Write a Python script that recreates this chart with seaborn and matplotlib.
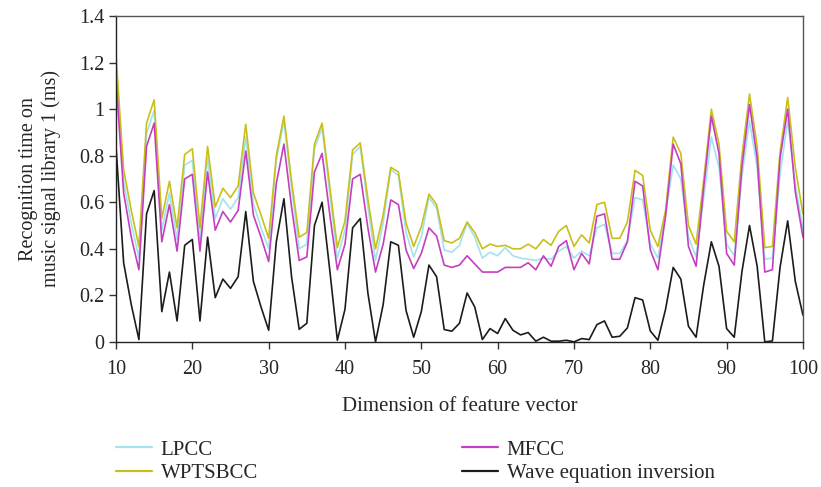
import numpy as np
import pandas as pd
import matplotlib
matplotlib.use("Agg")
import matplotlib.pyplot as plt
import matplotlib.ticker as mticker
import seaborn as sns

# ---------------------------------------------------------------
# Dati (dimensione 10..100)
# ---------------------------------------------------------------
dims = list(range(10, 101))

lpcc = [1.18, 0.69, 0.51, 0.36, 0.895, 0.995, 0.48, 0.64, 0.44, 0.76,
        0.78, 0.44, 0.79, 0.53, 0.615, 0.57, 0.62, 0.88, 0.595, 0.49,
        0.40, 0.78, 0.95, 0.665, 0.40, 0.42, 0.83, 0.92, 0.64, 0.36,
        0.48, 0.805, 0.84, 0.58, 0.35, 0.51, 0.74, 0.715, 0.47, 0.365,
        0.45, 0.62, 0.575, 0.395, 0.385, 0.415, 0.51, 0.45, 0.36, 0.385,
        0.37, 0.405, 0.37, 0.36, 0.355, 0.35, 0.36, 0.355, 0.39, 0.41,
        0.36, 0.39, 0.37, 0.49, 0.505, 0.38, 0.38, 0.435, 0.62, 0.61,
        0.42, 0.36, 0.55, 0.76, 0.70, 0.45, 0.365, 0.62, 0.88, 0.75,
        0.42, 0.37, 0.71, 0.95, 0.75, 0.355, 0.36, 0.72, 0.95, 0.68,
        0.48]

wptsbcc = [1.23, 0.74, 0.565, 0.41, 0.94, 1.04, 0.53, 0.69, 0.49, 0.805,
           0.83, 0.49, 0.84, 0.58, 0.66, 0.62, 0.67, 0.935, 0.64, 0.545,
           0.445, 0.80, 0.97, 0.69, 0.45, 0.47, 0.85, 0.94, 0.67, 0.405,
           0.52, 0.825, 0.855, 0.615, 0.40, 0.545, 0.75, 0.73, 0.51, 0.41,
           0.495, 0.635, 0.59, 0.435, 0.425, 0.445, 0.515, 0.47, 0.40, 0.42,
           0.41, 0.415, 0.40, 0.40, 0.42, 0.40, 0.44, 0.415, 0.475, 0.50,
           0.41, 0.46, 0.425, 0.59, 0.60, 0.445, 0.445, 0.515, 0.737, 0.715,
           0.48, 0.41, 0.565, 0.88, 0.81, 0.50, 0.42, 0.695, 1.00, 0.85,
           0.475, 0.43, 0.80, 1.065, 0.84, 0.405, 0.41, 0.815, 1.05, 0.75,
           0.55]

mfcc = [1.13, 0.64, 0.45, 0.31, 0.84, 0.94, 0.43, 0.59, 0.39, 0.70,
        0.72, 0.39, 0.73, 0.48, 0.56, 0.515, 0.565, 0.82, 0.545, 0.45,
        0.345, 0.68, 0.85, 0.58, 0.35, 0.365, 0.73, 0.81, 0.55, 0.31,
        0.42, 0.70, 0.72, 0.49, 0.30, 0.42, 0.61, 0.59, 0.395, 0.315,
        0.38, 0.49, 0.455, 0.33, 0.32, 0.33, 0.37, 0.335, 0.30, 0.30,
        0.30, 0.32, 0.32, 0.32, 0.34, 0.31, 0.37, 0.325, 0.41, 0.435,
        0.31, 0.38, 0.335, 0.54, 0.55, 0.355, 0.355, 0.43, 0.69, 0.67,
        0.395, 0.31, 0.54, 0.85, 0.765, 0.41, 0.325, 0.665, 0.97, 0.81,
        0.38, 0.33, 0.75, 1.02, 0.79, 0.30, 0.31, 0.79, 1.00, 0.645,
        0.45]

wave_inv = [0.84, 0.34, 0.16, 0.01, 0.55, 0.65, 0.13, 0.30, 0.09, 0.415,
            0.44, 0.09, 0.45, 0.19, 0.27, 0.23, 0.28, 0.56, 0.26, 0.15,
            0.05, 0.43, 0.615, 0.28, 0.054, 0.08, 0.50, 0.60, 0.31, 0.007,
            0.14, 0.49, 0.53, 0.21, 0.0, 0.16, 0.43, 0.415, 0.135, 0.02,
            0.13, 0.33, 0.28, 0.053, 0.046, 0.08, 0.21, 0.15, 0.01, 0.057,
            0.036, 0.10, 0.05, 0.03, 0.04, 0.003, 0.02, 0.003, 0.003, 0.007,
            0.0, 0.014, 0.01, 0.074, 0.09, 0.02, 0.024, 0.06, 0.19, 0.18,
            0.047, 0.007, 0.14, 0.32, 0.27, 0.067, 0.02, 0.245, 0.43, 0.325,
            0.057, 0.02, 0.30, 0.50, 0.325, 0.0, 0.004, 0.32, 0.52, 0.26,
            0.115]

serie = {
    "LPCC": lpcc,
    "WPTSBCC": wptsbcc,
    "MFCC": mfcc,
    "Wave equation inversion": wave_inv,
}
colori = {
    "LPCC": "#a3e2ee",
    "WPTSBCC": "#c9bf1a",
    "MFCC": "#c43fbf",
    "Wave equation inversion": "#1c1c1c",
}

# formato long per seaborn
df = pd.concat(
    [pd.DataFrame({"dim": dims, "tempo": v, "metodo": k}) for k, v in serie.items()],
    ignore_index=True,
)

# ---------------------------------------------------------------
# Grafico
# ---------------------------------------------------------------
sns.set_theme(style="ticks")
plt.rcParams["font.family"] = ["Liberation Serif", "DejaVu Serif"]

fig, ax = plt.subplots(figsize=(8.21, 4.87), dpi=100)
fig.subplots_adjust(left=0.1413, right=0.978, top=0.967, bottom=0.298)

sns.lineplot(data=df, x="dim", y="tempo", hue="metodo", palette=colori,
             linewidth=1.2, ax=ax, legend=False)

ax.set_xlim(10, 100)
ax.set_ylim(0, 1.4)
ax.set_xticks(range(10, 101, 10))
ax.set_yticks(np.arange(0, 1.41, 0.2))
ax.yaxis.set_major_formatter(mticker.FuncFormatter(lambda v, _: f"{v:g}"))
ax.tick_params(labelsize=14.5, direction="out", length=5, width=1, color="#333333")
ax.tick_params(axis="x", pad=8)
ax.tick_params(axis="y", pad=3.5)

for sp in ax.spines.values():
    sp.set_color("#555555")
    sp.set_linewidth(1.0)
ax.spines["left"].set_color("#222222")
ax.spines["bottom"].set_color("#222222")

ax.set_xlabel("Dimension of feature vector", fontsize=15, labelpad=13)
ax.set_ylabel("Recognition time on\nmusic signal library 1 (ms)", fontsize=14.5,
              linespacing=1.2)
ax.yaxis.set_label_coords(-0.080, 0.5)

# legenda sotto il grafico: due blocchi (colonna sinistra e destra)
nomi = list(serie.keys())
handles = [plt.Line2D([], [], color=colori[k], linewidth=1.6) for k in nomi]
opts = dict(loc="upper left", frameon=False, fontsize=15, handlelength=1.75,
            handletextpad=0.4, labelspacing=0.2, borderaxespad=0, borderpad=0)
fig.legend(handles[:2], nomi[:2], bbox_to_anchor=(116 / 821, 1 - 440 / 487), **opts)
fig.legend(handles[2:], nomi[2:], bbox_to_anchor=(462 / 821, 1 - 440 / 487), **opts)

plt.savefig("out.png", dpi=100)
